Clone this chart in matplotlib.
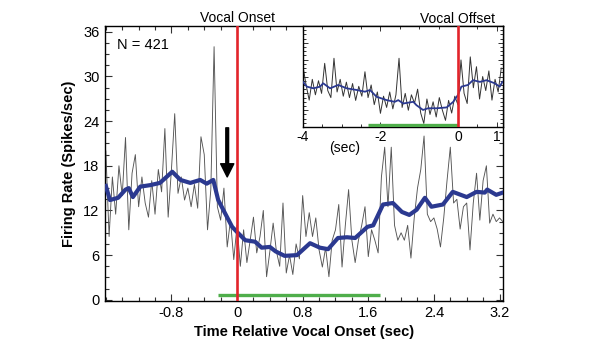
import numpy as np
import matplotlib
matplotlib.use("Agg")
import matplotlib.pyplot as plt
from matplotlib.ticker import MultipleLocator

plt.rcParams['font.family'] = ['Liberation Sans', 'DejaVu Sans']

# ---------------- data ----------------
# main panel: raw PSTH (thin line), 0.04 s bins starting at -1.60 s
raw_t0 = -1.60
raw_dt = 0.04
raw_rate = [
    20.0, 8.5, 16.5, 11.5, 18.0, 14.0, 21.8, 9.4, 17.0, 19.5,
    12.5, 16.5, 13.0, 11.1, 16.0, 11.5, 17.5, 14.5, 23.0, 11.1,
    17.5, 25.0, 14.3, 16.5, 13.4, 15.0, 12.5, 15.5, 12.3, 21.9,
    19.5, 9.4, 14.8, 34.0, 12.5, 10.7, 15.0, 7.1, 10.7, 5.4,
    10.0, 4.5, 9.4, 5.0, 8.0, 11.1, 6.3, 8.5, 12.0, 3.1,
    6.5, 10.3, 6.5, 4.5, 13.0, 3.6, 6.0, 3.4, 7.5, 5.5,
    14.0, 8.5, 11.7, 8.5, 11.0, 6.7, 4.4, 7.0, 3.1, 8.0,
    9.4, 12.8, 4.4, 10.0, 14.8, 8.0, 5.0, 8.0, 10.0, 12.5,
    5.8, 9.4, 8.0, 6.3, 16.5, 20.5, 12.5, 20.5, 10.0, 8.0,
    9.0, 8.0, 10.0, 5.6, 11.0, 15.0, 17.5, 22.0, 11.5, 10.5,
    11.0, 9.5, 7.1, 11.0, 16.0, 20.5, 13.0, 13.5, 9.5, 12.5,
    13.0, 6.7, 13.0, 17.0, 10.7, 16.0, 18.0, 10.3, 11.5, 10.5,
    11.0, 10.5,
]

# main panel: smoothed rate (thick blue line)
smooth_t = [-1.60, -1.55, -1.45, -1.36, -1.32, -1.27, -1.18, -1.06, -0.94, -0.88,
            -0.79, -0.69, -0.57, -0.45, -0.37, -0.29, -0.23, -0.15, -0.06, 0.00,
            0.10, 0.22, 0.30, 0.40, 0.47, 0.58, 0.73, 0.89, 1.01, 1.11,
            1.23, 1.34, 1.44, 1.59, 1.66, 1.78, 1.90, 2.01, 2.10, 2.19,
            2.29, 2.37, 2.51, 2.63, 2.80, 2.92, 3.02, 3.05, 3.16, 3.24]
smooth_rate = [15.3, 13.4, 13.7, 14.8, 15.0, 13.8, 15.2, 15.4, 15.7, 16.3,
               17.2, 16.1, 15.7, 16.1, 15.6, 16.1, 13.4, 11.7, 9.8, 9.1,
               8.0, 7.8, 7.0, 7.1, 6.5, 5.9, 6.0, 7.6, 7.0, 6.8,
               8.3, 8.4, 8.3, 9.8, 10.0, 12.8, 13.0, 11.8, 11.4, 12.1,
               13.7, 12.5, 12.8, 14.5, 13.8, 14.5, 14.4, 14.8, 14.1, 14.4]

# inset: raw rate aligned to vocal offset, 0.08 s bins from -4.00 s
inset_t0 = -4.00
inset_dt = 0.08
inset_raw = [
    21.5, 15.0, 9.6, 17.0, 11.5, 16.5, 12.0, 22.7, 13.0, 10.5,
    24.5, 12.5, 17.0, 11.0, 16.0, 10.5, 15.5, 9.5, 14.5, 11.0,
    19.7, 10.5, 15.0, 8.0, 12.5, 4.9, 11.0, 7.0, 12.5, 6.5,
    11.5, 24.5, 7.0, 12.0, 6.0, 11.5, 8.5, 13.5, 5.0, 1.3,
    10.0, 4.5, 9.0, 3.6, 10.5, 6.0, 2.4, 9.5, 5.0, 11.0,
    8.0, 23.9, 12.0, 8.4, 25.0, 14.0, 21.5, 10.0, 18.0, 13.0,
    20.0, 9.6, 17.0, 12.5, 21.0,
]
inset_smooth_t = [-4.00, -3.90, -3.73, -3.56, -3.48, -3.30, -3.09, -2.87, -2.61, -2.40,
                  -2.27, -2.10, -1.84, -1.63, -1.54, -1.41, -1.15, -1.07, -0.90, -0.77,
                  -0.55, -0.29, -0.12, 0.00, 0.09, 0.26, 0.39, 0.57, 0.74, 0.95,
                  1.08, 1.15]
inset_smooth = [16.1, 14.4, 13.8, 14.4, 15.6, 13.8, 15.0, 13.8, 13.2, 12.6,
                13.2, 10.8, 9.6, 9.0, 9.6, 8.4, 9.0, 7.8, 6.1, 6.7,
                6.7, 7.0, 9.0, 11.4, 14.4, 15.0, 16.7, 16.1, 16.7, 15.6,
                14.4, 16.1]

vocal_bar_main = [-0.23, 1.74]
vocal_bar_inset = [-2.32, 0.0]
arrow_x = -0.12
arrow_y = [23.1, 16.5]
main_xticks = [-0.8, 0, 0.8, 1.6, 2.4, 3.2]
main_yticks = [0, 6, 12, 18, 24, 30, 36]
inset_xticks = [-4, -2, 0, 1]
n_cells = 421

BLUE = '#2b3990'
RED = '#e2242b'
GREEN = '#4fae4b'
GRAY = '#555555'

raw_t = raw_t0 + raw_dt * np.arange(len(raw_rate))
inset_t = inset_t0 + inset_dt * np.arange(len(inset_raw))

fig = plt.figure(figsize=(6.0, 3.54), dpi=100)
ax = fig.add_axes([0.175, 0.150, 0.663, 0.777])

ax.plot(raw_t, raw_rate, color=GRAY, lw=0.65, zorder=2)
ax.plot(smooth_t, smooth_rate, color=BLUE, lw=3.0, zorder=3, solid_joinstyle='round')
ax.plot(vocal_bar_main, [0.7, 0.7], color=GREEN, lw=2.4, zorder=4, solid_capstyle='butt')
ax.axvline(0, color=RED, lw=1.9, zorder=5)
ax.annotate('', xy=(arrow_x, arrow_y[1]), xytext=(arrow_x, arrow_y[0]),
            arrowprops=dict(facecolor='black', edgecolor='black', width=2.0,
                            headwidth=9.5, headlength=9.5, shrink=0), zorder=6)

ax.set_xlim(-1.61, 3.24)
ax.set_ylim(-0.15, 36.8)
ax.set_xticks(main_xticks)
ax.set_xticklabels(['-0.8', '0', '0.8', '1.6', '2.4', '3.2'])
ax.set_yticks(main_yticks)
ax.xaxis.set_minor_locator(MultipleLocator(0.2))
ax.yaxis.set_minor_locator(MultipleLocator(1.5))
ax.tick_params(which='both', direction='in', top=True, right=True,
               labelsize=10.5, width=0.8, color='#333333')
ax.tick_params(which='major', length=5, pad=4)
ax.tick_params(which='minor', length=3)
for s in ax.spines.values():
    s.set_linewidth(1.0)
ax.set_xlabel('Time Relative Vocal Onset (sec)', fontsize=10.5, fontweight='bold', labelpad=3)
ax.set_ylabel('Firing Rate (Spikes/sec)', fontsize=10.5, fontweight='bold', labelpad=5)
ax.text(0.03, 0.93, f'N = {n_cells}', transform=ax.transAxes, fontsize=10.5,
        ha='left', va='center')
ax.text(0, 1.03, 'Vocal Onset', transform=ax.get_xaxis_transform(), fontsize=10,
        ha='center', va='center')

# inset
ins = fig.add_axes([0.505, 0.641, 0.333, 0.2856])
ins.plot(inset_t, inset_raw, color='#333333', lw=0.7, zorder=2)
ins.plot(inset_smooth_t, inset_smooth, color=BLUE, lw=1.3, zorder=3)
ins.plot(vocal_bar_inset, [0.7, 0.7], color=GREEN, lw=2.4, zorder=4, solid_capstyle='butt')
ins.axvline(0, color=RED, lw=1.9, zorder=5)
ins.set_xlim(-4, 1.16)
ins.set_ylim(0, 36)
ins.set_xticks(inset_xticks)
ins.set_xticklabels(['-4', '-2', '0', '1'])
ins.set_yticks([0, 6, 12, 18, 24, 30, 36])
ins.yaxis.set_minor_locator(MultipleLocator(1.5))
ins.xaxis.set_minor_locator(MultipleLocator(0.5))
ins.tick_params(which='both', direction='in', top=True, right=True, labelleft=False,
                labelsize=10, width=0.7, color='#333333')
ins.tick_params(which='major', length=3.5, pad=2)
ins.tick_params(which='minor', length=2)
for s in ins.spines.values():
    s.set_linewidth(1.0)
ins.text(0, 1.07, 'Vocal Offset', transform=ins.get_xaxis_transform(), fontsize=10,
         ha='center', va='center')
fig.text(0.575, 0.582, '(sec)', fontsize=10, ha='center', va='center')

fig.savefig('out.png', dpi=100)
